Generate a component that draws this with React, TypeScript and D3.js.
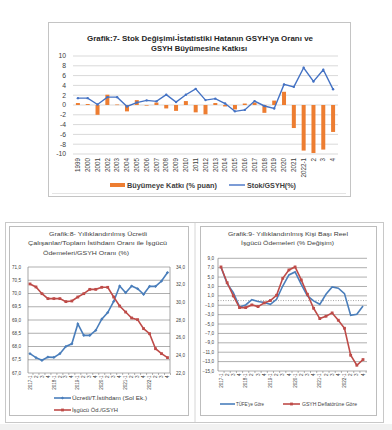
import React from 'react';
import * as d3 from 'd3';

// ---------- Grafik 7 data ----------
const topCats = ['1999','2000','2001','2002','2003','2004','2005','2006','2007','2008','2009','2010','2011','2012','2013','2014','2015','2016','2017','2018','2019','2020','2021','2022-1','2','3','4'];
const growthContribution = [0.4,0.2,-2.0,2.1,0.1,-1.3,1.0,0,0.5,-0.7,-1.2,0.8,-1.5,-1.9,0.4,-0.3,-0.9,0.3,0.5,-1.6,0.9,2.7,-4.7,-9.3,-9.8,-9.1,-5.5];
const stockToGdp = [1.4,1.4,0.1,1.6,1.6,-0.3,0.5,0.95,0.75,2.1,0.6,2.1,3.3,1.0,1.3,0.3,-1.3,-1.0,0.8,-0.2,-0.7,4.2,3.7,7.6,4.8,7.2,3.2];
const topYTicks = [10,8,6,4,2,0,-2,-4,-6,-8,-10];

// ---------- Grafik 8 / 9 shared categories ----------
const quarterCats = ['2017-1','2017-2','2017-3','2017-4','2018-1','2018-2','2018-3','2018-4','2019-1','2019-2','2019-3','2019-4','2020-1','2020-2','2020-3','2020-4','2021-1','2021-2','2021-3','2021-4','2022-1','2022-2','2022-3','2022-4'];
const quarterLabels = ['2017-1','2','3','4','2018-1','2','3','4','2019-1','2','3','4','2020-1','2','3','4','2021-1','2','3','4','2022-1','2','3','4'];

// ---------- Grafik 8 data ----------
const paidEmployeeShare = [67.73,67.58,67.48,67.6,67.59,67.73,68.0,68.1,68.85,68.42,68.42,68.61,69.03,69.28,69.7,70.28,70.03,70.28,70.18,69.97,70.27,70.27,70.47,70.79];
const laborPayToGdp = [32.08,31.74,30.98,30.42,30.42,30.42,30.08,30.15,30.6,30.98,31.47,31.47,31.7,31.7,30.6,29.58,28.9,28.23,28.04,27.02,26.45,24.75,24.19,23.74];
const g8LeftTicks = [71,70.5,70,69.5,69,68.5,68,67.5,67];
const g8RightTicks = [34,32,30,28,26,24,22];

// ---------- Grafik 9 data ----------
const cpiBased = [7.16,3.6,1.7,-1.35,-0.93,0.2,-0.2,-0.43,-0.8,0.28,3.1,5.45,6.1,3.47,0.99,-0.08,-0.8,1.34,2.9,2.62,1.48,-3.13,-2.9,-1.14];
const deflatorBased = [7.16,3.8,0.99,-1.5,-1.5,-0.93,-1.28,-0.5,0.0,1.13,4.74,6.52,7.16,4.4,1.34,-1.64,-3.84,-3.34,-2.63,-4.19,-5.9,-11.64,-13.77,-12.56];
const g9Ticks = [9,7,5,3,1,-1,-3,-5,-7,-9,-11,-13,-15];

const FONT = "'Liberation Sans', Arial, sans-serif";
const fmt1 = (v: number) => d3.format('.1f')(v).replace('.', ',');

function TopChart() {
  const x = d3.scaleBand<string>().domain(topCats).range([73, 338]).padding(0);
  const y = d3.scaleLinear().domain([-10, 10]).range([154, 56]);
  const cx = (c: string) => (x(c) as number) + x.bandwidth() / 2;
  const line = d3.line<number>().x((_, i) => cx(topCats[i])).y((d) => y(d));
  const bw = 4;
  return (
    <g fontFamily={FONT}>
      <rect x={48.5} y={22.5} width={302} height={174} fill="#fff" stroke="#c4c4c4" />
      <line x1={52} x2={346} y1={193.5} y2={193.5} stroke="#e4e4e4" />
      <text x={200} y={40.5} textAnchor="middle" fontSize={7.5} fontWeight="bold" fill="#262626" textLength={226} lengthAdjust="spacingAndGlyphs">Grafik:7- Stok Değişimi-İstatistiki Hatanın GSYH'ya Oranı ve</text>
      <text x={199} y={50.5} textAnchor="middle" fontSize={7.5} fontWeight="bold" fill="#262626" textLength={96} lengthAdjust="spacingAndGlyphs">GSYH Büyümesine Katkısı</text>
      {topYTicks.map((t) => (
        <g key={t}>
          <line x1={73} x2={338} y1={y(t)} y2={y(t)} stroke="#d9d9d9" strokeWidth={1} />
          <text x={66} y={y(t)} dy="0.35em" textAnchor="end" fontSize={6.8} fill="#404040">{t}</text>
        </g>
      ))}
      {growthContribution.map((v, i) => (
        <rect key={i} x={cx(topCats[i]) - bw / 2} y={Math.min(y(v), y(0))} width={bw} height={Math.max(Math.abs(y(v) - y(0)), 0.6)} fill="#ED7D31" />
      ))}
      <path d={line(stockToGdp) || ''} fill="none" stroke="#4472C4" strokeWidth={1.4} />
      {stockToGdp.map((v, i) => (
        <circle key={i} cx={cx(topCats[i])} cy={y(v)} r={1.2} fill="#4472C4" />
      ))}
      {topCats.map((c) => (
        <text key={c} transform={`translate(${cx(c)},158) rotate(-90)`} dy="0.35em" textAnchor="end" fontSize={6.3} fill="#404040">{c}</text>
      ))}
      <rect x={110} y={183} width={15} height={4} fill="#ED7D31" />
      <text x={127} y={187.5} fontSize={6.8} fontWeight="bold" fill="#404040" textLength={90} lengthAdjust="spacingAndGlyphs">Büyümeye Katkı (% puan)</text>
      <line x1={229} x2={245} y1={185} y2={185} stroke="#4472C4" strokeWidth={1.4} />
      <text x={247} y={187.5} fontSize={6.8} fontWeight="bold" fill="#404040" textLength={49} lengthAdjust="spacingAndGlyphs">Stok/GSYH(%)</text>
    </g>
  );
}

function QuarterAxis({ x, yAxis, color }: { x: d3.ScalePoint<string>; yAxis: number; color: string }) {
  return (
    <g>
      {quarterCats.map((c, i) => {
        const px = x(c) as number;
        return (
          <g key={c}>
            <line x1={px + x.step() / 2} x2={px + x.step() / 2} y1={yAxis} y2={yAxis + 2} stroke={color} strokeWidth={0.6} />
            <text transform={`translate(${px},${yAxis + 2.5}) rotate(-90)`} dy="0.35em" textAnchor="end" fontSize={4.6} fill="#404040">{quarterLabels[i]}</text>
          </g>
        );
      })}
    </g>
  );
}

function Grafik8() {
  const x = d3.scalePoint<string>().domain(quarterCats).range([27, 170.5]).padding(0.5);
  const yL = d3.scaleLinear().domain([67, 71]).range([373, 267]);
  const yR = d3.scaleLinear().domain([22, 34]).range([373, 267]);
  const lineL = d3.line<number>().x((_, i) => x(quarterCats[i]) as number).y((d) => yL(d));
  const lineR = d3.line<number>().x((_, i) => x(quarterCats[i]) as number).y((d) => yR(d));
  const blue = '#4A7EBB';
  const red = '#BE4B48';
  return (
    <g fontFamily={FONT}>
      <text x={98} y={235.5} textAnchor="middle" fontSize={6} fill="#404040" textLength={98} lengthAdjust="spacingAndGlyphs">Grafik:8- Yıllıklandırılmış Ücretli</text>
      <text x={97.5} y={245} textAnchor="middle" fontSize={6} fill="#404040" textLength={139} lengthAdjust="spacingAndGlyphs">Çalışanlar/Toplam İstihdam Oranı ile İşgücü</text>
      <text x={86} y={254.5} textAnchor="middle" fontSize={6} fill="#404040" textLength={86} lengthAdjust="spacingAndGlyphs">Ödemeleri/GSYH Oranı (%)</text>
      {g8LeftTicks.map((t) => (
        <g key={t}>
          <line x1={28} x2={170} y1={yL(t)} y2={yL(t)} stroke="#8c8c8c" strokeWidth={0.7} />
          <text x={21} y={yL(t)} dy="0.35em" textAnchor="end" fontSize={4.6} fill="#404040">{fmt1(t)}</text>
        </g>
      ))}
      {g8RightTicks.map((t) => (
        <text key={t} x={176} y={yR(t)} dy="0.35em" textAnchor="start" fontSize={4.6} fill="#404040">{fmt1(t)}</text>
      ))}
      <line x1={28} x2={28} y1={267} y2={373} stroke="#7f7f7f" strokeWidth={0.7} />
      <line x1={170} x2={170} y1={267} y2={373} stroke="#7f7f7f" strokeWidth={0.7} />
      <QuarterAxis x={x} yAxis={373} color="#7f7f7f" />
      <path d={lineL(paidEmployeeShare) || ''} fill="none" stroke={blue} strokeWidth={1.6} />
      {paidEmployeeShare.map((v, i) => {
        const px = x(quarterCats[i]) as number;
        const py = yL(v);
        return <path key={i} d={`M${px},${py - 1.6}L${px + 1.6},${py}L${px},${py + 1.6}L${px - 1.6},${py}Z`} fill={blue} />;
      })}
      <path d={lineR(laborPayToGdp) || ''} fill="none" stroke={red} strokeWidth={1.6} />
      {laborPayToGdp.map((v, i) => (
        <rect key={i} x={(x(quarterCats[i]) as number) - 1.4} y={yR(v) - 1.4} width={2.8} height={2.8} fill={red} />
      ))}
      <line x1={54} x2={71} y1={398} y2={398} stroke={blue} strokeWidth={1.6} />
      <path d="M62.5,396.4L64.1,398L62.5,399.6L60.9,398Z" fill={blue} />
      <text x={72} y={400} fontSize={5.2} fill="#404040" textLength={75} lengthAdjust="spacingAndGlyphs">Ücretli/T.İstihdam (Sol Ek.)</text>
      <line x1={54} x2={71} y1={410} y2={410} stroke={red} strokeWidth={1.6} />
      <rect x={61.1} y={408.6} width={2.8} height={2.8} fill={red} />
      <text x={72} y={412} fontSize={5.2} fill="#404040" textLength={46} lengthAdjust="spacingAndGlyphs">İşgücü Öd./GSYH</text>
    </g>
  );
}

function Grafik9() {
  const x = d3.scalePoint<string>().domain(quarterCats).range([217.9, 366.1]).padding(0.5);
  const y = d3.scaleLinear().domain([-15, 9]).range([371, 258.3]);
  const mk = d3.line<number>().x((_, i) => x(quarterCats[i]) as number).y((d) => y(d));
  const blue = '#4A7EBB';
  const red = '#BE4B48';
  return (
    <g fontFamily={FONT}>
      <text x={288} y={235.5} textAnchor="middle" fontSize={6} fill="#404040" textLength={120} lengthAdjust="spacingAndGlyphs">Grafik:9- Yıllıklandırılmış Kişi Başı Reel</text>
      <text x={287.5} y={245} textAnchor="middle" fontSize={6} fill="#404040" textLength={93} lengthAdjust="spacingAndGlyphs">İşgücü Ödemeleri (% Değişim)</text>
      {g9Ticks.map((t) => (
        <g key={t}>
          <line x1={218} x2={367} y1={y(t)} y2={y(t)} stroke="#8c8c8c" strokeWidth={0.7} />
          <text x={214} y={y(t)} dy="0.35em" textAnchor="end" fontSize={4.6} fill="#404040">{fmt1(t)}</text>
        </g>
      ))}
      <line x1={218} x2={367} y1={y(0)} y2={y(0)} stroke="#7f7f7f" strokeWidth={0.7} strokeDasharray="1,1.5" />
      <line x1={218} x2={218} y1={258.3} y2={371} stroke="#7f7f7f" strokeWidth={0.7} />
      <QuarterAxis x={x} yAxis={371} color="#7f7f7f" />
      <path d={mk(cpiBased) || ''} fill="none" stroke={blue} strokeWidth={1.6} />
      <path d={mk(deflatorBased) || ''} fill="none" stroke={red} strokeWidth={1.6} />
      {deflatorBased.map((v, i) => (
        <rect key={i} x={(x(quarterCats[i]) as number) - 1.4} y={y(v) - 1.4} width={2.8} height={2.8} fill={red} />
      ))}
      <line x1={220} x2={235} y1={404} y2={404} stroke={blue} strokeWidth={1.6} />
      <text x={236} y={406} fontSize={5} fill="#404040" textLength={28} lengthAdjust="spacingAndGlyphs">TÜFE'ye Göre</text>
      <line x1={283} x2={300} y1={404} y2={404} stroke={red} strokeWidth={1.6} />
      <rect x={290.1} y={402.6} width={2.8} height={2.8} fill={red} />
      <text x={302} y={406} fontSize={5} fill="#404040" textLength={55} lengthAdjust="spacingAndGlyphs">GSYH Deflatörüne Göre</text>
    </g>
  );
}

export default function App() {
  return (
    <svg width={392} height={430} style={{ position: 'absolute', left: 0, top: 0, display: 'block' }}>
      <rect x={0} y={0} width={392} height={430} fill="#fff" />
      <rect x={0} y={424} width={392} height={6} fill="#f1f1f1" />
      <TopChart />
      <rect x={5.5} y={222.5} width={378} height={200} fill="#fff" stroke="#c8c8c8" />
      <line x1={195} x2={195} y1={223} y2={422} stroke="#d6d6d6" />
      <rect x={9.5} y={226.5} width={179} height={189} fill="none" stroke="#bdbdbd" />
      <rect x={200.5} y={226.5} width={176} height={189} fill="none" stroke="#bdbdbd" />
      <Grafik8 />
      <Grafik9 />
    </svg>
  );
}
